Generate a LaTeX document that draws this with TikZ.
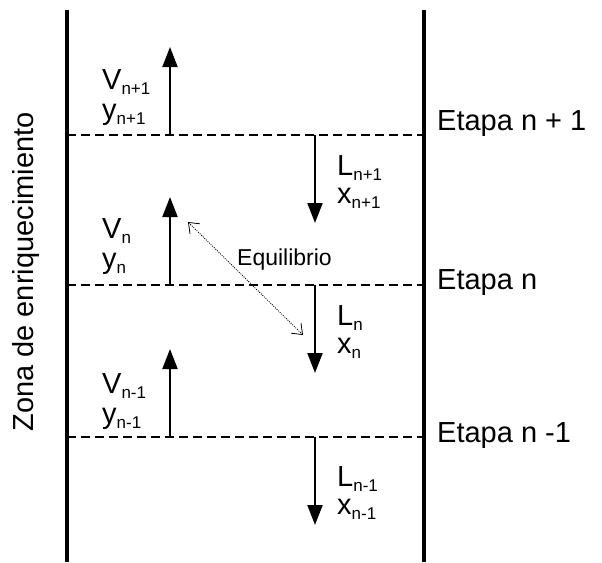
\documentclass[tikz,border=0pt]{standalone}
\usepackage{fontspec}
\setmainfont{Liberation Sans}
\usetikzlibrary{arrows.meta}
\newcommand{\lowidx}[1]{\raisebox{-5pt}{\fontsize{17}{17}\selectfont #1}}
\tikzset{
  wall/.style={line width=4pt},
  plate/.style={line width=2.8pt, dash pattern=on 9pt off 5pt},
  flow/.style={line width=2pt, -{Triangle[length=20pt,width=15pt]}},
  eqarrow/.style={line width=0.8pt, dash pattern=on 1pt off 1.2pt, {Straight Barb[length=9pt,width=14pt]}-{Straight Barb[length=9pt,width=14pt]}},
  lbl/.style={font=\fontsize{29}{30}\selectfont, inner sep=0pt, anchor=base west},
}
\begin{document}
\begin{tikzpicture}[x=1pt,y=-1pt]
        \useasboundingbox (0,0) rectangle (602,562);
        % column walls
        \draw[wall] (67,10) -- (67,562);
        \draw[wall] (424,10) -- (424,562);
        \node[lbl, anchor=base, rotate=90] (zona) at (33,272) {Zona de enriquecimiento};
        % stages: name / plate level / subscript / V base / L base / Etapa centre / Etapa text
        \foreach \s/\lev/\idx/\vy/\ly/\ey/\etapa in {a/135/n+1/89/175/124/{Etapa n + 1}, b/285/n/238/325/283/{Etapa n}, c/437/n-1/393/486/436/{Etapa n -1}} {
            \draw[plate] (67,\lev) -- (424,\lev);
            \coordinate (up-\s) at (170,\lev);
            \coordinate (uptip-\s) at (170,\lev-88);
            \coordinate (dn-\s) at (315,\lev);
            \coordinate (dntip-\s) at (315,\lev+88);
            \draw[flow] (up-\s) -- (uptip-\s);
            \draw[flow] (dn-\s) -- (dntip-\s);
            \node[lbl] (V-\s) at (102,\vy) {V\lowidx{\idx}};
            \node[lbl] (y-\s) at (102,\vy+30) {y\lowidx{\idx}};
            \node[lbl] (L-\s) at (337,\ly) {L\lowidx{\idx}};
            \node[lbl] (x-\s) at (337,\ly+28) {x\lowidx{\idx}};
            \node[lbl, anchor=west] (etapa-\s) at (437,\ey) {\etapa};
        }
        % equilibrium between V_n and L_n
        \coordinate (eq-up) at (188,222);
        \coordinate (eq-dn) at (303,335);
        \draw[eqarrow] (eq-up) -- (eq-dn);
        \node[lbl, font=\fontsize{23}{24}\selectfont] (equil) at (237,265) {Equilibrio};
    \end{tikzpicture}
\end{document}
